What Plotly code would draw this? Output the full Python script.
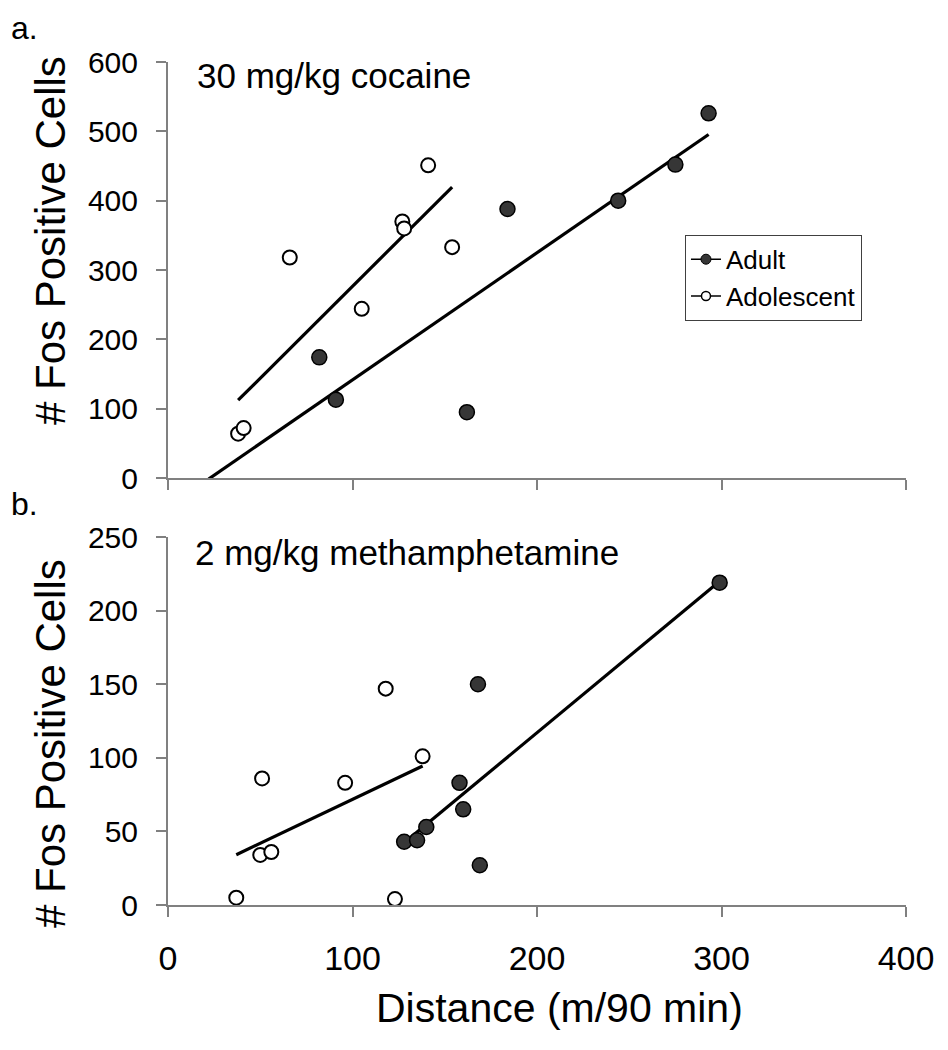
import numpy as np
import plotly.graph_objects as go

# ---------------- data ----------------
# Panel a: 30 mg/kg cocaine
a_adult_x = [82, 91, 162, 184, 244, 275, 293]
a_adult_y = [174, 113, 95, 388, 400, 452, 526]
a_adol_x = [38, 41, 66, 105, 127, 128, 141, 154]
a_adol_y = [64, 72, 318, 244, 370, 360, 451, 333]

# Panel b: 2 mg/kg methamphetamine
b_adult_x = [128, 135, 140, 160, 158, 168, 169, 299]
b_adult_y = [43, 44, 53, 65, 83, 150, 27, 219]
b_adol_x = [37, 50, 56, 51, 96, 118, 138, 123]
b_adol_y = [5, 34, 36, 86, 83, 147, 101, 4]

# trendline backward forecast (x units), as in the original spreadsheet chart
a_adult_backcast = 60
x_ticks = [0, 100, 200, 300, 400]
a_y_ticks = [0, 100, 200, 300, 400, 500, 600]
b_y_ticks = [0, 50, 100, 150, 200, 250]

FONT = "Liberation Sans, Arial, sans-serif"
AXIS_GRAY = "#808080"
FILL_DARK = "#363636"

fig = go.Figure()


def trend(xs, ys, back=0.0):
    k, b = np.polyfit(xs, ys, 1)
    x0, x1 = min(xs) - back, max(xs)
    return [x0, x1], [k * x0 + b, k * x1 + b]


def add_panel(ax, ay, dx, dy, xa, ya, back_adult=0.0):
    tx, ty = trend(ax, ay, back_adult)
    fig.add_trace(go.Scatter(x=tx, y=ty, mode="lines", xaxis=xa, yaxis=ya,
                             line=dict(color="black", width=3.2), showlegend=False,
                             hoverinfo="skip"))
    tx, ty = trend(dx, dy)
    fig.add_trace(go.Scatter(x=tx, y=ty, mode="lines", xaxis=xa, yaxis=ya,
                             line=dict(color="black", width=3.2), showlegend=False,
                             hoverinfo="skip"))
    fig.add_trace(go.Scatter(x=dx, y=dy, mode="markers", xaxis=xa, yaxis=ya,
                             marker=dict(size=14, color="white",
                                         line=dict(color="black", width=2)),
                             showlegend=False, cliponaxis=False, name="Adolescent"))
    fig.add_trace(go.Scatter(x=ax, y=ay, mode="markers", xaxis=xa, yaxis=ya,
                             marker=dict(size=15, color=FILL_DARK,
                                         line=dict(color="black", width=1.5)),
                             showlegend=False, cliponaxis=False, name="Adult"))


add_panel(a_adult_x, a_adult_y, a_adol_x, a_adol_y, "x", "y", a_adult_backcast)
add_panel(b_adult_x, b_adult_y, b_adol_x, b_adol_y, "x2", "y2")

# legend entries (line through marker, as in the original legend)
fig.add_trace(go.Scatter(x=[None], y=[None], mode="lines+markers", name="Adult",
                         line=dict(color="black", width=1.5),
                         marker=dict(size=10, color=FILL_DARK,
                                     line=dict(color="black", width=1))))
fig.add_trace(go.Scatter(x=[None], y=[None], mode="lines+markers", name="Adolescent",
                         line=dict(color="black", width=1.5),
                         marker=dict(size=9, color="white",
                                     line=dict(color="black", width=1.5))))

axis_common = dict(showline=True, linecolor=AXIS_GRAY, linewidth=2, showgrid=False,
                   zeroline=False, ticks="outside", ticklen=10, tickwidth=2,
                   tickcolor=AXIS_GRAY, automargin=False)

ytitle = "# Fos Positive Cells"

fig.update_layout(
    width=940, height=1042,
    margin=dict(l=160, r=42, t=54, b=145),
    paper_bgcolor="white", plot_bgcolor="white",
    font=dict(family=FONT, color="black"),
    showlegend=True,
    legend=dict(x=0.7005, y=0.795, xanchor="left", yanchor="top",
                bgcolor="white", bordercolor="#404040", borderwidth=1,
                font=dict(size=26, family=FONT), tracegroupgap=0),
    xaxis=dict(domain=[0, 1], range=[0, 400], anchor="y", tickvals=x_ticks,
               showticklabels=False, **axis_common),
    yaxis=dict(domain=[0.5065, 1.0], range=[0, 600], anchor="x", tickvals=a_y_ticks,
               tickfont=dict(size=30), ticklabelstandoff=12, **axis_common),
    xaxis2=dict(domain=[0, 1], range=[0, 400], anchor="y2", tickvals=x_ticks,
                tickfont=dict(size=34), ticklabelstandoff=12, **axis_common),
    yaxis2=dict(domain=[0, 0.4365], range=[0, 250], anchor="x2", tickvals=b_y_ticks,
                tickfont=dict(size=30), ticklabelstandoff=12, **axis_common),
    annotations=[
        dict(text="Distance (m/90 min)", xref="paper", yref="paper", x=0.53, y=-0.1222,
             xanchor="center", yanchor="middle", showarrow=False, font=dict(size=41)),
        dict(text=ytitle, xref="paper", yref="paper", x=-0.1585, y=0.7877,
             xanchor="center", yanchor="middle", textangle=-90, showarrow=False,
             font=dict(size=42)),
        dict(text=ytitle, xref="paper", yref="paper", x=-0.1585, y=0.191,
             xanchor="center", yanchor="middle", textangle=-90, showarrow=False,
             font=dict(size=42)),
        dict(text="30 mg/kg cocaine", xref="x domain", yref="y domain", x=0.036, y=1.019,
             xanchor="left", yanchor="top", showarrow=False, font=dict(size=35)),
        dict(text="2 mg/kg methamphetamine", xref="x2 domain", yref="y2 domain",
             x=0.034, y=1.016, xanchor="left", yanchor="top", showarrow=False,
             font=dict(size=35)),
        dict(text="a.", xref="paper", yref="paper", x=-0.215, y=1.0645,
             xanchor="left", yanchor="top", showarrow=False, font=dict(size=32)),
        dict(text="b.", xref="paper", yref="paper", x=-0.215, y=0.4998,
             xanchor="left", yanchor="top", showarrow=False, font=dict(size=32)),
    ],
)

fig.write_html("out.html")
